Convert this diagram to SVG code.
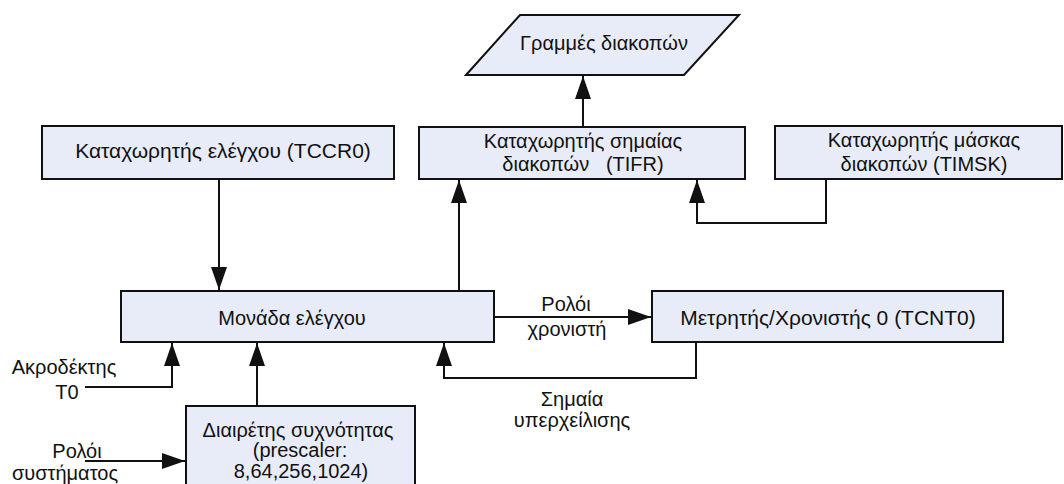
<svg xmlns="http://www.w3.org/2000/svg" width="1064" height="484" viewBox="0 0 1064 484">
  <style>
    .box { fill: #e8ecf8; stroke: #111; stroke-width: 2; }
    .lbl { font-family: "Liberation Sans", Arial, sans-serif; font-size: 20px; fill: #111; text-anchor: middle; }
    .big { font-size: 21px; }
    .wire { fill: none; stroke: #111; stroke-width: 2; }
  </style>
  <defs>
    <marker id="arrow" viewBox="0 0 23 16" refX="23" refY="8" markerWidth="23" markerHeight="16" markerUnits="userSpaceOnUse" orient="auto">
      <path d="M0,0 L23,8 L0,16 Z" fill="#111"/>
    </marker>
  </defs>

  <rect width="1064" height="484" fill="#fff"/>

  <!-- connectors -->
  <g id="connectors">
    <path class="wire" d="M583,127 V76" marker-end="url(#arrow)"/>
    <path class="wire" d="M219,179 V290" marker-end="url(#arrow)"/>
    <path class="wire" d="M459,291 V180" marker-end="url(#arrow)"/>
    <path class="wire" d="M826,179 V223 H697 V180" marker-end="url(#arrow)"/>
    <path class="wire" d="M494,317 H651" marker-end="url(#arrow)"/>
    <path class="wire" d="M696,342 V378 H444 V343" marker-end="url(#arrow)"/>
    <path class="wire" d="M85,387 H172 V343" marker-end="url(#arrow)"/>
    <path class="wire" d="M257,406 V343" marker-end="url(#arrow)"/>
    <path class="wire" d="M85,461 H185" marker-end="url(#arrow)"/>
  </g>

  <!-- interrupt lines -->
  <g id="interrupt-lines">
    <polygon class="box" points="466,75 520,15 739,15 684,75"/>
    <text class="lbl" x="604" y="50">Γραμμές διακοπών</text>
  </g>

  <g id="tccr0">
    <rect class="box" x="42" y="126" width="352" height="53"/>
    <text class="lbl big" x="223" y="158">Καταχωρητής ελέγχου (TCCR0)</text>
  </g>

  <g id="tifr">
    <rect class="box" x="419" y="127" width="326" height="52"/>
    <text class="lbl" x="583" y="148">Καταχωρητής σημαίας</text>
    <text class="lbl" x="583" y="171" xml:space="preserve">διακοπών   (TIFR)</text>
  </g>

  <g id="timsk">
    <rect class="box" x="775" y="126" width="287" height="53"/>
    <text class="lbl" x="924" y="147">Καταχωρητής μάσκας</text>
    <text class="lbl" x="924" y="171">διακοπών (TIMSK)</text>
  </g>

  <g id="control-unit">
    <rect class="box" x="121" y="291" width="373" height="51"/>
    <text class="lbl" x="292" y="325">Μονάδα ελέγχου</text>
  </g>

  <g id="tcnt0">
    <rect class="box" x="652" y="291" width="351" height="51"/>
    <text class="lbl big" x="828" y="325">Μετρητής/Χρονιστής 0 (TCNT0)</text>
  </g>

  <g id="prescaler">
    <rect class="box" x="186" y="406" width="229" height="90"/>
    <text class="lbl" x="298" y="437">Διαιρέτης συχνότητας</text>
    <text class="lbl" x="300" y="457">(prescaler:</text>
    <text class="lbl" x="301" y="478">8,64,256,1024)</text>
  </g>

  <!-- free labels -->
  <g id="labels">
    <text class="lbl" x="64" y="374">Ακροδέκτης</text>
    <text class="lbl" x="67" y="399">T0</text>
    <text class="lbl" x="77" y="458">Ρολόι</text>
    <text class="lbl" x="65" y="480">συστήματος</text>
    <text class="lbl" x="566" y="311">Ρολόι</text>
    <text class="lbl" x="567" y="336">χρονιστή</text>
    <text class="lbl" x="572" y="406">Σημαία</text>
    <text class="lbl" x="572" y="427">υπερχείλισης</text>
  </g>
</svg>
